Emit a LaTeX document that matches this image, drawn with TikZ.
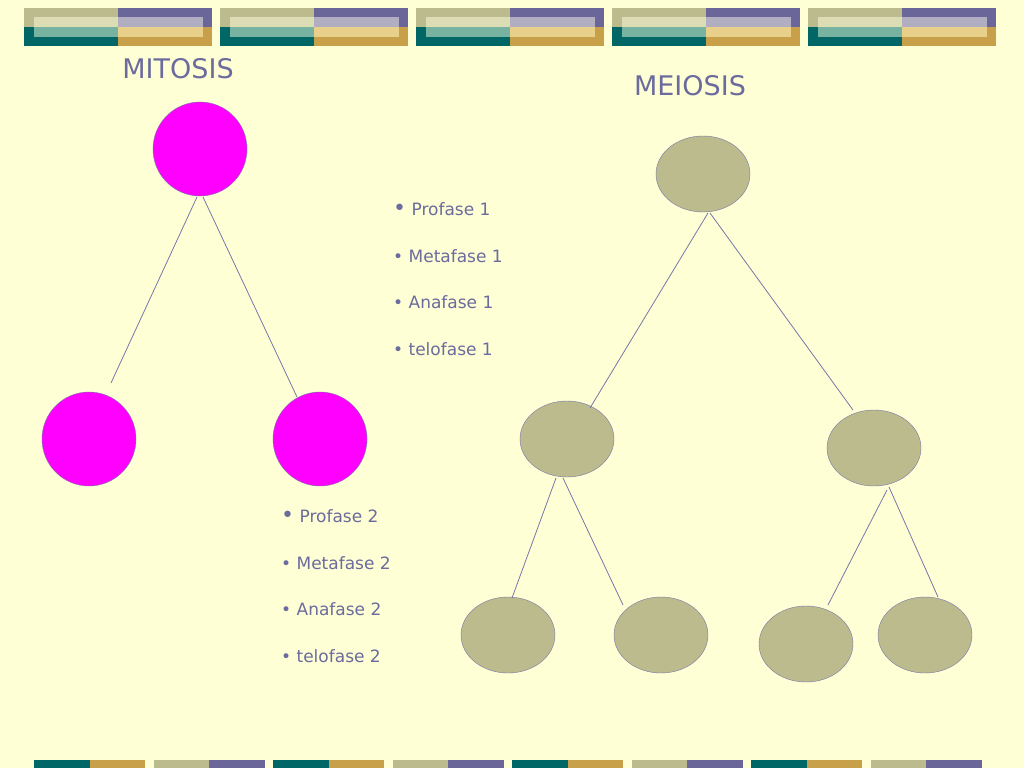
\documentclass[tikz,border=0pt]{standalone}
\usepackage{fontspec}
\usetikzlibrary{shapes.geometric}
\setmainfont{DejaVu Sans}
\definecolor{bg}{HTML}{FFFFD5}
\definecolor{ol}{HTML}{BBBB8E}
\definecolor{pu}{HTML}{6B6699}
\definecolor{te}{HTML}{006666}
\definecolor{go}{HTML}{C8A04A}
\definecolor{olL}{HTML}{DDDDB5}
\definecolor{puL}{HTML}{B0AEC0}
\definecolor{teL}{HTML}{77B3A0}
\definecolor{goL}{HTML}{E8D08A}
\definecolor{tx}{HTML}{6B6B9E}
\definecolor{mag}{HTML}{FF00FF}
\definecolor{ln}{HTML}{7777AA}
\begin{document}
\begin{tikzpicture}[x=1pt,y=-1pt,
 mit/.style={circle,draw=ln,fill=mag,minimum size=94pt,inner sep=0pt},
 mei/.style={ellipse,draw=ln,fill=ol,minimum width=94pt,minimum height=76pt,inner sep=0pt},
 con/.style={draw=ln,line width=0.8pt},
 title/.style={text=tx,font=\fontsize{27}{30}\selectfont,inner sep=0pt},
 item/.style={text=tx,font=\fontsize{17}{20}\selectfont,anchor=west,inner sep=0pt}]
\path[use as bounding box,fill=bg] (0,0) rectangle (1024,768);
% top decorations
\foreach \i in {0,...,4}{
 \begin{scope}[xshift=\i*196pt]
 \fill[ol] (24,8) rectangle (118,27);
 \fill[pu] (118,8) rectangle (212,27);
 \fill[te] (24,27) rectangle (118,46);
 \fill[go] (118,27) rectangle (212,46);
 \fill[olL] (34,17) rectangle (118,27);
 \fill[puL] (118,17) rectangle (203,27);
 \fill[teL] (34,27) rectangle (118,37);
 \fill[goL] (118,27) rectangle (203,37);
 \end{scope}}
% bottom decorations
\foreach \i in {0,...,7}{
 \pgfmathsetmacro{\xo}{34+\i*119.5}
 \ifodd\i
  \fill[ol] (\xo,760) rectangle (\xo+55.5,768);
  \fill[pu] (\xo+55.5,760) rectangle (\xo+111,768);
 \else
  \fill[te] (\xo,760) rectangle (\xo+55.5,768);
  \fill[go] (\xo+55.5,760) rectangle (\xo+111,768);
 \fi}
\node[title] (tmit) at (178,69) {MITOSIS};
\node[title] (tmei) at (690,86) {MEIOSIS};
% mitosis
\node[mit] (m0) at (200,149) {};
\node[mit] (m1) at (89,439) {};
\node[mit] (m2) at (320,439) {};
\coordinate (a1) at (197,197); \coordinate (b1) at (111,383);
\coordinate (a2) at (203,197); \coordinate (b2) at (297,397);
\draw[con] (a1) -- (b1); \draw[con] (a2) -- (b2);
% meiosis
\node[mei] (e0) at (703,174) {};
\node[mei] (e1) at (567,439) {};
\node[mei] (e2) at (874,448) {};
\node[mei] (e3) at (508,635) {};
\node[mei] (e4) at (661,635) {};
\node[mei] (e5) at (806,644) {};
\node[mei] (e6) at (925,635) {};
\coordinate (c1) at (708,213); \coordinate (d1) at (590,408);
\coordinate (c2) at (710,213); \coordinate (d2) at (853,410);
\coordinate (c3) at (556,478); \coordinate (d3) at (512,598);
\coordinate (c4) at (563,478); \coordinate (d4) at (623,605);
\coordinate (c5) at (887,490); \coordinate (d5) at (828,605);
\coordinate (c6) at (889,487); \coordinate (d6) at (938,597);
\foreach \p/\q in {c1/d1,c2/d2,c3/d3,c4/d4,c5/d5,c6/d6}{\draw[con] (\p) -- (\q);}
% lists
\node[item] (p1) at (393,209) {{\fontsize{22}{22}\selectfont•} Profase 1};
\node[item] (p2) at (393,256) {• Metafase 1};
\node[item] (p3) at (393,302) {• Anafase 1};
\node[item] (p4) at (393,349) {• telofase 1};
\node[item] (q1) at (281,516) {{\fontsize{22}{22}\selectfont•} Profase 2};
\node[item] (q2) at (281,563) {• Metafase 2};
\node[item] (q3) at (281,609) {• Anafase 2};
\node[item] (q4) at (281,656) {• telofase 2};
\end{tikzpicture}
\end{document}
